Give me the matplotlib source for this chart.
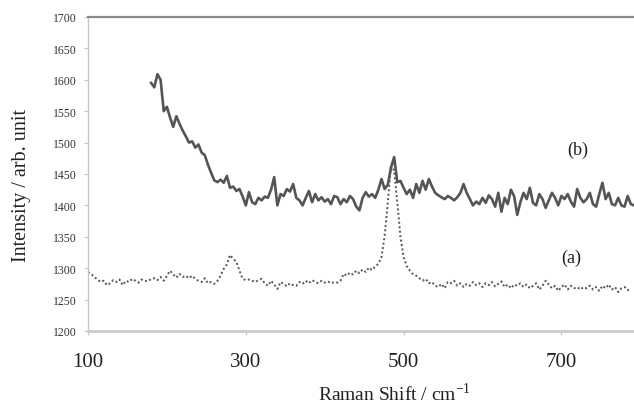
import numpy as np
import matplotlib
matplotlib.use("Agg")
import matplotlib.pyplot as plt

# ---- data ----
b_start, b_step = 180, 4
b_intensity = [
    1595, 1588, 1609, 1600, 1550, 1557, 1540, 1525, 1542, 1530,
    1519, 1510, 1500, 1502, 1492, 1497, 1484, 1480, 1465, 1452,
    1440, 1437, 1441, 1436, 1447, 1428, 1430, 1423, 1426, 1414,
    1400, 1421, 1405, 1402, 1412, 1408, 1414, 1412, 1425, 1445,
    1400, 1418, 1415, 1426, 1422, 1434, 1412, 1408, 1400, 1412,
    1423, 1405, 1418, 1408, 1413, 1406, 1410, 1402, 1415, 1413,
    1402, 1410, 1405, 1415, 1410, 1398, 1392, 1412, 1421, 1414,
    1418, 1412, 1425, 1442, 1426, 1433, 1460, 1477, 1437, 1439,
    1428, 1418, 1425, 1412, 1434, 1420, 1439, 1425, 1442, 1430,
    1420, 1416, 1413, 1410, 1415, 1412, 1408, 1413, 1420, 1434,
    1420, 1410, 1400, 1406, 1402, 1412, 1404, 1416, 1410, 1398,
    1420, 1390, 1412, 1402, 1425, 1415, 1385, 1405, 1420, 1410,
    1428, 1404, 1400, 1418, 1410, 1396, 1408, 1420, 1412, 1400,
    1415, 1410, 1418, 1406, 1398, 1426, 1412, 1405, 1410, 1420,
    1402, 1398, 1418, 1436, 1410, 1420, 1402, 1400, 1412, 1400,
    1398, 1415, 1402, 1400,
]

a_start, a_step = 100, 4
a_intensity = [
    1294, 1291, 1286, 1282, 1278, 1280, 1273, 1276, 1281, 1278,
    1282, 1273, 1280, 1278, 1283, 1280, 1277, 1282, 1280, 1279,
    1283, 1284, 1281, 1286, 1280, 1288, 1296, 1290, 1285, 1291,
    1286, 1288, 1284, 1288, 1283, 1280, 1278, 1284, 1276, 1278,
    1275, 1280, 1288, 1299, 1306, 1321, 1315, 1310, 1296, 1283,
    1281, 1282, 1280, 1278, 1281, 1283, 1276, 1272, 1280, 1274,
    1267, 1278, 1275, 1271, 1276, 1273, 1272, 1278, 1275, 1280,
    1276, 1281, 1278, 1276, 1280, 1277, 1279, 1276, 1278, 1277,
    1280, 1291, 1288, 1293, 1290, 1296, 1292, 1298, 1294, 1301,
    1297, 1303, 1307, 1318, 1352, 1405, 1465, 1455, 1405, 1350,
    1318, 1303, 1296, 1290, 1288, 1284, 1280, 1283, 1276, 1278,
    1272, 1270, 1275, 1268, 1278, 1276, 1280, 1272, 1276, 1270,
    1275, 1272, 1278, 1273, 1276, 1270, 1276, 1273, 1278, 1271,
    1275, 1279, 1270, 1274, 1268, 1274, 1272, 1276, 1270, 1274,
    1268, 1272, 1276, 1266, 1272, 1280, 1274, 1268, 1272, 1264,
    1270, 1274, 1266, 1272, 1268, 1270, 1266, 1270, 1268, 1272,
    1266, 1270, 1264, 1272, 1268, 1274, 1266, 1270, 1262, 1268,
    1270, 1265, 1268,
]

x_ticks = [100, 300, 500, 700]
y_ticks = [1200, 1250, 1300, 1350, 1400, 1450, 1500, 1550, 1600, 1650, 1700]

b_shift = b_start + b_step * np.arange(len(b_intensity))
a_shift = a_start + a_step * np.arange(len(a_intensity))

plt.rcParams['font.family'] = ['Liberation Serif', 'DejaVu Serif']

fig = plt.figure(figsize=(6.34, 4.06), dpi=100)
ax = fig.add_axes([0.1388, 0.1823, 0.8612, 0.7734])

ax.plot(b_shift, b_intensity, color='#555555', lw=1.9, solid_joinstyle='round')
ax.plot(a_shift, a_intensity, color='#555555', lw=1.4, linestyle=(0, (1, 1.3)))

ax.set_xlim(100, 792)
ax.set_ylim(1200, 1700)
ax.set_xticks(x_ticks)
ax.set_yticks(y_ticks)
ax.tick_params(axis='x', labelsize=15, length=3, color='#c8c8c8', pad=12,
               labelcolor='#222222')
ax.tick_params(axis='y', labelsize=8.5, length=3, color='#c8c8c8', pad=5,
               labelcolor='#333333')

ax.spines['right'].set_visible(False)
ax.spines['top'].set_color('#8a8a8a')
ax.spines['top'].set_linewidth(1.6)
ax.spines['left'].set_color('#c8c8c8')
ax.spines['left'].set_linewidth(1.0)
ax.spines['bottom'].set_color('#cccccc')
ax.spines['bottom'].set_linewidth(2.0)

ax.text(721, 1490, '(b)', fontsize=13, ha='center', va='center', color='#222222')
ax.text(712, 1318, '(a)', fontsize=13, ha='center', va='center', color='#222222')

fig.text(22 / 634, 1 - 186 / 406, 'Intensity / arb. unit', rotation=90,
         fontsize=14.5, ha='center', va='center', color='#222222')
fig.text(394 / 634, 1 - 394 / 406, 'Raman Shift / cm$^{\\mathregular{-1}}$',
         fontsize=14, ha='center', va='center', color='#222222')

fig.savefig('out.png', dpi=100)
